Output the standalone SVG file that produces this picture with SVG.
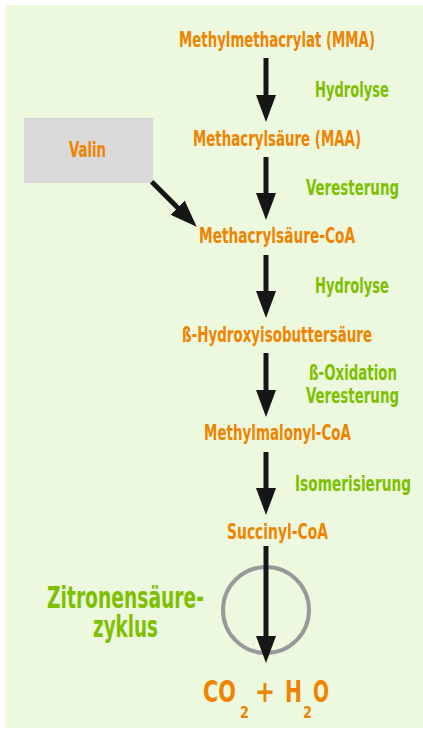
<svg xmlns="http://www.w3.org/2000/svg" width="423" height="733" viewBox="0 0 423 733">
<style>
text{font-family:"DejaVu Sans Condensed","Liberation Sans Narrow","Liberation Sans",sans-serif;font-weight:bold;}
.o{fill:#F08300;font-size:20.5px;}
.g{fill:#7DC000;font-size:20.5px;}
.big{fill:#7DC000;font-size:30px;}
.co{fill:#F08300;font-size:30px;}
.sub{fill:#F08300;font-size:16px;}
.arr{stroke:#161616;stroke-width:5;fill:none;}
</style>
<defs>
<marker id="ah" viewBox="0 0 27 20" refX="2" refY="10" markerWidth="27" markerHeight="20" markerUnits="userSpaceOnUse" orient="auto">
<path d="M0,0 L27,10 L0,20 z" fill="#161616"/>
</marker>
</defs>
<rect x="5" y="5" width="418" height="723" fill="#EDF9DE"/>
<g id="valin">
<rect x="24" y="118" width="129" height="65" fill="#D9D9D9"/>
<text class="o" x="69" y="157" textLength="37" lengthAdjust="spacingAndGlyphs">Valin</text>
</g>
<g id="mma"><text class="o" x="179" y="47" textLength="196" lengthAdjust="spacingAndGlyphs">Methylmethacrylat (MMA)</text></g>
<g id="maa"><text class="o" x="193" y="146" textLength="168" lengthAdjust="spacingAndGlyphs">Methacrylsäure (MAA)</text></g>
<g id="maacoa"><text class="o" x="199" y="243" textLength="156" lengthAdjust="spacingAndGlyphs">Methacrylsäure-CoA</text></g>
<g id="hiba"><text class="o" x="182" y="342" textLength="190" lengthAdjust="spacingAndGlyphs">ß-Hydroxyisobuttersäure</text></g>
<g id="mmcoa"><text class="o" x="204" y="440" textLength="147" lengthAdjust="spacingAndGlyphs">Methylmalonyl-CoA</text></g>
<g id="succ"><text class="o" x="227" y="539" textLength="101" lengthAdjust="spacingAndGlyphs">Succinyl-CoA</text></g>
<g id="tca">
<circle cx="266" cy="610" r="43" fill="none" stroke="#999999" stroke-width="4"/>
<text class="big" x="47" y="608" textLength="157" lengthAdjust="spacingAndGlyphs">Zitronensäure-</text>
<text class="big" x="93" y="637" textLength="65" lengthAdjust="spacingAndGlyphs">zyklus</text>
</g>
<g id="product">
<text class="co" x="203" y="702" textLength="33" lengthAdjust="spacingAndGlyphs">CO</text>
<text class="sub" x="240" y="718" textLength="9" lengthAdjust="spacingAndGlyphs">2</text>
<text class="co" x="255" y="702" textLength="20" lengthAdjust="spacingAndGlyphs">+</text>
<text class="co" x="285" y="702" textLength="17" lengthAdjust="spacingAndGlyphs">H</text>
<text class="sub" x="303" y="718" textLength="9" lengthAdjust="spacingAndGlyphs">2</text>
<text class="co" x="313" y="702" textLength="16" lengthAdjust="spacingAndGlyphs">O</text>
</g>
<g id="labels">
<text class="g" x="315" y="97" textLength="74" lengthAdjust="spacingAndGlyphs">Hydrolyse</text>
<text class="g" x="306" y="195" textLength="93" lengthAdjust="spacingAndGlyphs">Veresterung</text>
<text class="g" x="315" y="293" textLength="74" lengthAdjust="spacingAndGlyphs">Hydrolyse</text>
<text class="g" x="309" y="380" textLength="88" lengthAdjust="spacingAndGlyphs">ß-Oxidation</text>
<text class="g" x="306" y="403" textLength="93" lengthAdjust="spacingAndGlyphs">Veresterung</text>
<text class="g" x="295" y="491" textLength="116" lengthAdjust="spacingAndGlyphs">Isomerisierung</text>
</g>
<g id="connectors">
<line class="arr" x1="266" y1="58" x2="266" y2="97" marker-end="url(#ah)"/>
<line class="arr" x1="266" y1="157" x2="266" y2="195" marker-end="url(#ah)"/>
<line class="arr" x1="266" y1="255" x2="266" y2="293" marker-end="url(#ah)"/>
<line class="arr" x1="266" y1="353" x2="266" y2="392" marker-end="url(#ah)"/>
<line class="arr" x1="266" y1="452" x2="266" y2="490" marker-end="url(#ah)"/>
<line class="arr" x1="266" y1="546" x2="266" y2="638" marker-end="url(#ah)"/>
<line class="arr" x1="151.7" y1="181.7" x2="179" y2="209" marker-end="url(#ah)"/>
</g>
</svg>
